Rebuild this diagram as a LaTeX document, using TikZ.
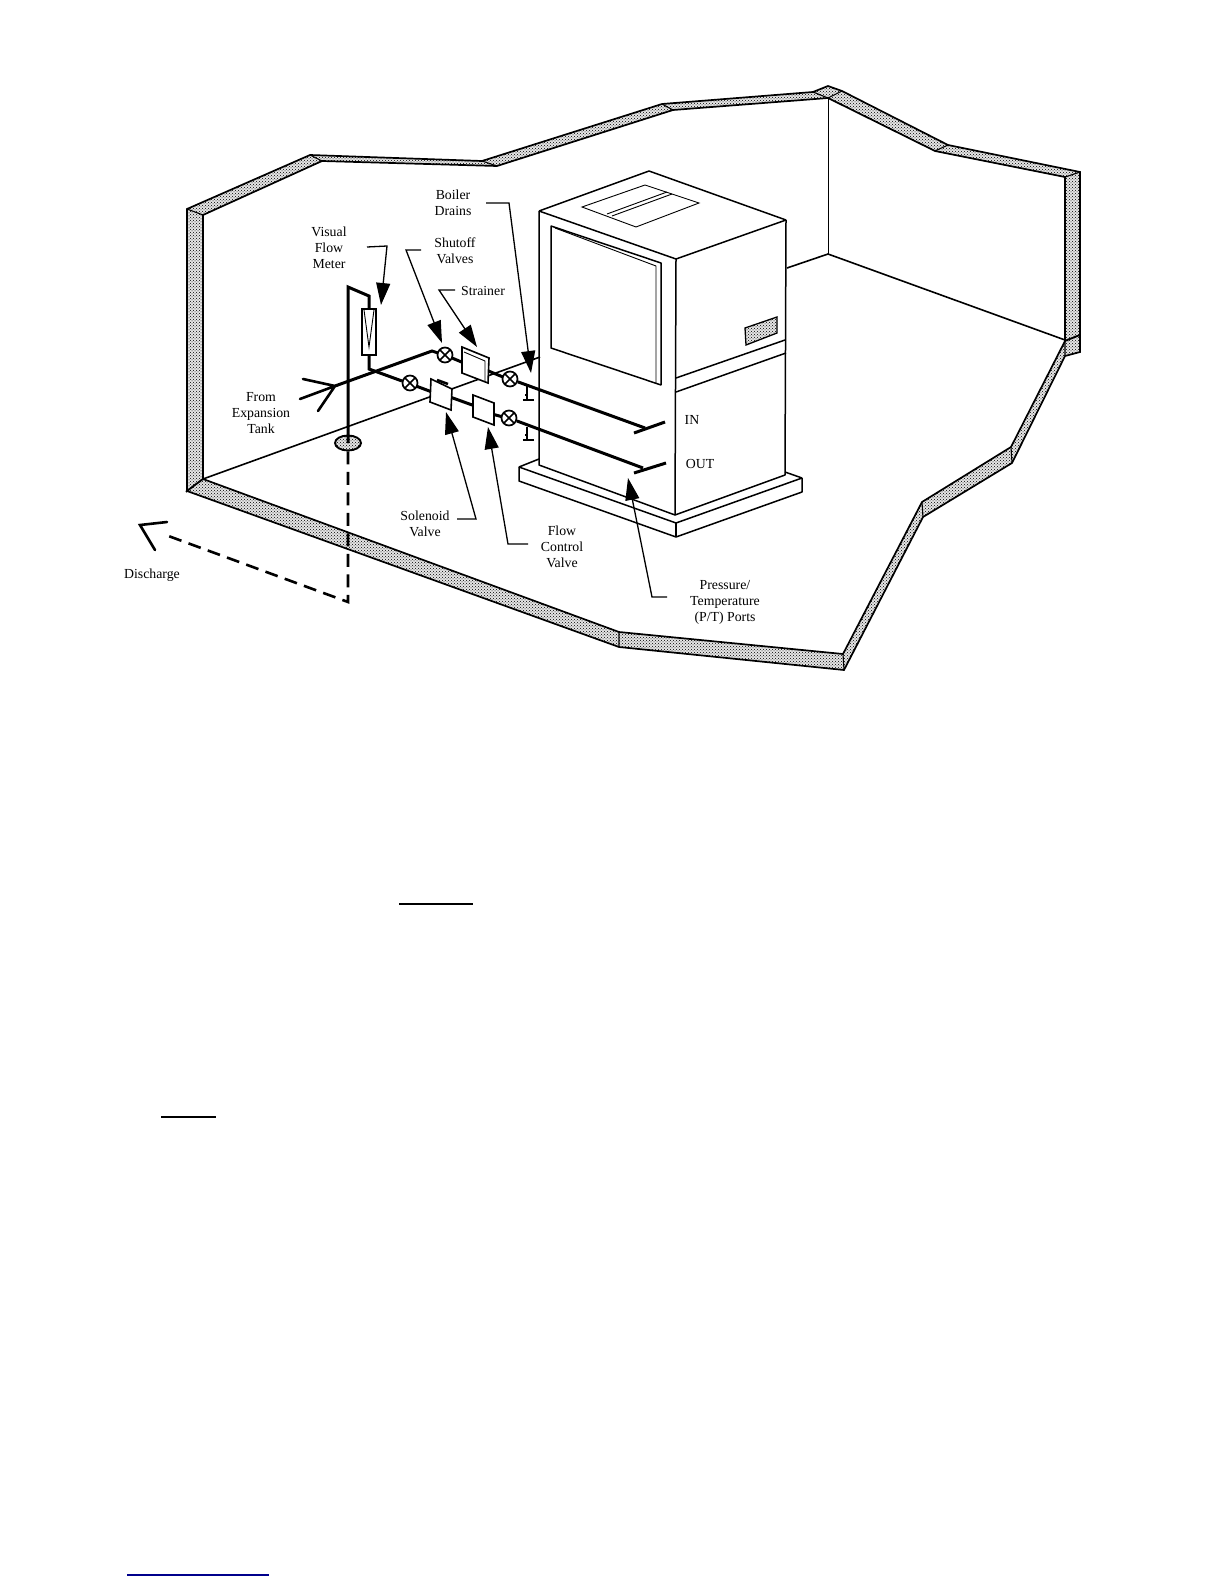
\documentclass[tikz,border=0pt]{standalone}
\usepackage{fontspec}
\setmainfont{Liberation Serif}
\usepackage{tikz}
\usetikzlibrary{arrows.meta, patterns, shapes.geometric}
\tikzset{
    stipple/.style={preaction={fill=black!10}, pattern=crosshatch dots, pattern color=black},
    wallbox/.style={draw=black, line width=1.7pt, line join=miter, stipple},
    divider/.style={draw=black, line width=1.1pt},
    thinline/.style={draw=black, line width=0.9pt},
    floorline/.style={draw=black, line width=1.6pt},
    unitline/.style={draw=black, line width=1.5pt, line join=bevel},
    pipe/.style={draw=black, line width=3pt},
    partbox/.style={draw=black, fill=white, line width=1.6pt},
    drainline/.style={draw=black, line width=1.4pt},
    dashpipe/.style={draw=black, line width=2.6pt, dash pattern=on 13pt off 7.5pt},
    arrowbarb/.style={draw=black, line width=2.6pt, line cap=round},
    leader/.style={draw=black, line width=1.3pt, -{Triangle[length=22pt,width=14pt]}},
    lbl/.style={font=\fontsize{13.8}{16}\selectfont, align=center, inner sep=0pt, text=black},
    valvebox/.style={circle, draw=black, fill=white, line width=1.7pt, minimum size=15pt, inner sep=0pt,
        path picture={\draw[line width=1.5pt] (path picture bounding box.north west) -- (path picture bounding box.south east)
            (path picture bounding box.north east) -- (path picture bounding box.south west);}},
}
\begin{document}
\begin{tikzpicture}[x=1pt, y=-1pt]
    \useasboundingbox (0,0) rectangle (1224,1584);
    % walls and floor slab
    \draw[wallbox] (187,209) -- (310,155) -- (482,161) -- (662,104) -- (813,92) -- (828,86) -- (842,91)
        -- (948,145) -- (1080,172) -- (1080,335) -- (1065,341) -- (1065,177) -- (935,151) -- (828,98)
        -- (673,110) -- (497,166) -- (322,161) -- (203,215) -- (203,479) -- (187,491) -- cycle;
    \draw[wallbox] (187,491) -- (203,479) -- (619,632) -- (843,654) -- (922,502) -- (1011,447) -- (1065,341)
        -- (1080,335) -- (1080,352) -- (1065,356) -- (1012,463) -- (923,517) -- (844,670) -- (619,647) -- cycle;
    \draw[divider] (187,209) -- (203,215) (310,155) -- (322,161) (482,161) -- (497,166) (662,104) -- (673,110)
        (813,92) -- (828,98) -- (842,91) (948,145) -- (935,151) (1080,172) -- (1065,177)
        (619,632) -- (619,647) (843,654) -- (844,670) (922,502) -- (923,517) (1011,447) -- (1012,463)
        (1065,341) -- (1065,356);
    \draw[thinline] (828,98) -- (828,254);
    \draw[floorline] (787,268) -- (828,254) -- (1065,340);
    \draw[floorline] (203,479) -- (540,357);
    % unit
    \draw[unitline] (539,211) -- (649,171) -- (786,220) -- (676,259) -- cycle;
    \draw[unitline] (539,211) -- (539,465) -- (675,515) -- (785,475) -- (786,220);
    \draw[unitline] (676,259) -- (675,515);
    \draw[unitline] (676,378) -- (785,340) (676,392) -- (786,353);
    \draw[thinline] (582,207) -- (645,185) -- (699,203) -- (636,227) -- cycle;
    \draw[thinline] (607,214) -- (667,192) (612,216) -- (672,194);
    \draw[unitline] (551,226) -- (661,263) -- (661,385) -- (551,348) -- cycle;
    \draw[thinline] (555,228) -- (656,266) -- (656,383);
    \draw[draw=black, line width=1.3pt, stipple] (745,328) -- (777,317) -- (777,333) -- (746,345) -- cycle;
    \draw[unitline] (539,459) -- (519,467) -- (676,523) -- (802,478) -- (785,472);
    \draw[unitline] (519,467) -- (519,481) -- (676,537) -- (802,492) -- (802,478);
    \draw[unitline] (676,523) -- (676,537);
    % piping
    \coordinate (mtop) at (348,287);
    \coordinate (mbend) at (369,296);
    \coordinate (mupper) at (369,310);
    \coordinate (mlower) at (369,355);
    \coordinate (mjoin) at (369,369);
    \coordinate (inlet) at (335,386);
    \coordinate (inbend) at (432,351);
    \coordinate (barba) at (303,379);
    \coordinate (barbb) at (300,399);
    \coordinate (barbc) at (318,411);
    \node[ellipse, draw=black, line width=1.9pt, stipple, minimum width=26pt, minimum height=15pt, inner sep=0pt] (drain) at (348,443) {};
    \draw[pipe] (drain.center) -- (mtop) -- (mbend) -- (mupper);
    \draw[partbox, line width=1.2pt] (362,309) rectangle (376,355);
    \draw[thinline] (364,310) -- (369,347) -- (374,310);
    \draw[pipe] (mlower) -- (mjoin) -- (402,381);
    \draw[pipe] (inlet) -- (inbend) -- (438,353);
    \draw[arrowbarb] (barba) -- (inlet) -- (barbb) (inlet) -- (barbc);
    \draw[pipe] (416,386) -- (432,392);
    \draw[pipe] (452,358) -- (464,363);
    \draw[pipe] (486,370) -- (503,377);
    \draw[pipe] (450,397) -- (475,406);
    \draw[pipe] (492,414) -- (503,417);
    \coordinate (inport) at (645,428);
    \coordinate (outport) at (643,468);
    \coordinate (ina) at (634,433);
    \coordinate (inb) at (665,422);
    \coordinate (outa) at (634,473);
    \coordinate (outb) at (666,463);
    \node[valvebox] (vshut) at (445,355) {};
    \node[valvebox] (vbypass) at (410,383) {};
    \node[valvebox] (vin) at (510,379) {};
    \node[valvebox] (vout) at (509,418) {};
    \draw[pipe] (vin) -- (inport);
    \draw[pipe] (vout) -- (outport);
    \draw[draw=black, line width=3pt] (ina) -- (inb) (outa) -- (outb);
    \draw[partbox] (462,347) -- (489,358) -- (488,383) -- (462,373) -- cycle;
    \draw[thinline] (464,352) -- (485,361) -- (485,381);
    \draw[partbox] (431,379) -- (452,389) -- (451,410) -- (430,402) -- cycle;
    \draw[draw=black, line width=2.6pt] (437,380) -- (448,384);
    \draw[partbox] (473,395) -- (494,403) -- (494,425) -- (473,417) -- cycle;
    \draw[drainline] (527,386) -- (527,400) (523,400) -- (534,400) (525,395) -- (527,395);
    \draw[drainline] (527,427) -- (527,440) (523,440) -- (534,440) (525,435) -- (527,435);
    % discharge
    \coordinate (dcorner) at (348,602);
    \coordinate (dend) at (163,534);
    \coordinate (dtip) at (140,525);
    \coordinate (dbarba) at (167,522);
    \coordinate (dbarbb) at (155,550);
    \draw[dashpipe] (drain.south) -- (dcorner) -- (dend);
    \draw[arrowbarb] (dbarba) -- (dtip) -- (dbarbb);
    % labels
    \node[lbl] (boiler) at (453,203) {Boiler\\Drains};
    \node[lbl] (visual) at (329,248) {Visual\\Flow\\Meter};
    \node[lbl] (shutoff) at (455,251) {Shutoff\\Valves};
    \node[lbl] (strainer) at (483,291) {Strainer};
    \node[lbl] (fromtank) at (261,413) {From\\Expansion\\Tank};
    \node[lbl] (discharge) at (152,575) {Discharge};
    \node[lbl] (solenoid) at (425,524) {Solenoid\\Valve};
    \node[lbl] (flowctl) at (562,547) {Flow\\Control\\Valve};
    \node[lbl] (pressure) at (725,602) {Pressure/\\Temperature\\(P/T) Ports};
    \node[lbl] (inlbl) at (692,420) {IN};
    \node[lbl] (outlbl) at (700,464) {OUT};
    % leaders
    \coordinate (la) at (367,247);
    \coordinate (lb) at (387,246);
    \coordinate (lc) at (381,305);
    \coordinate (ld) at (421,250);
    \coordinate (le) at (406,250);
    \coordinate (lf) at (442,343);
    \coordinate (lg) at (455,290);
    \coordinate (lh) at (439,290);
    \coordinate (li) at (477,347);
    \coordinate (lj) at (486,203);
    \coordinate (lk) at (509,203);
    \coordinate (ll) at (531,373);
    \coordinate (lm) at (457,519);
    \coordinate (ln) at (476,519);
    \coordinate (lo) at (446,412);
    \coordinate (lp) at (528,544);
    \coordinate (lq) at (508,544);
    \coordinate (lr) at (488,427);
    \coordinate (ls) at (667,597);
    \coordinate (lt) at (652,597);
    \coordinate (lu) at (628,478);
    \draw[leader] (la) -- (lb) -- (lc);
    \draw[leader] (ld) -- (le) -- (lf);
    \draw[leader] (lg) -- (lh) -- (li);
    \draw[leader] (lj) -- (lk) -- (ll);
    \draw[leader] (lm) -- (ln) -- (lo);
    \draw[leader] (lp) -- (lq) -- (lr);
    \draw[leader] (ls) -- (lt) -- (lu);
    % stray rules
    \coordinate (ra) at (399,904);
    \coordinate (rb) at (473,904);
    \coordinate (rc) at (161,1117);
    \coordinate (rd) at (216,1117);
    \coordinate (re) at (127,1575);
    \coordinate (rf) at (269,1575);
    \draw[draw=black, line width=2pt] (ra) -- (rb) (rc) -- (rd);
    \draw[draw=blue!55!black, line width=1.2pt] (re) -- (rf);
\end{tikzpicture}
\end{document}
